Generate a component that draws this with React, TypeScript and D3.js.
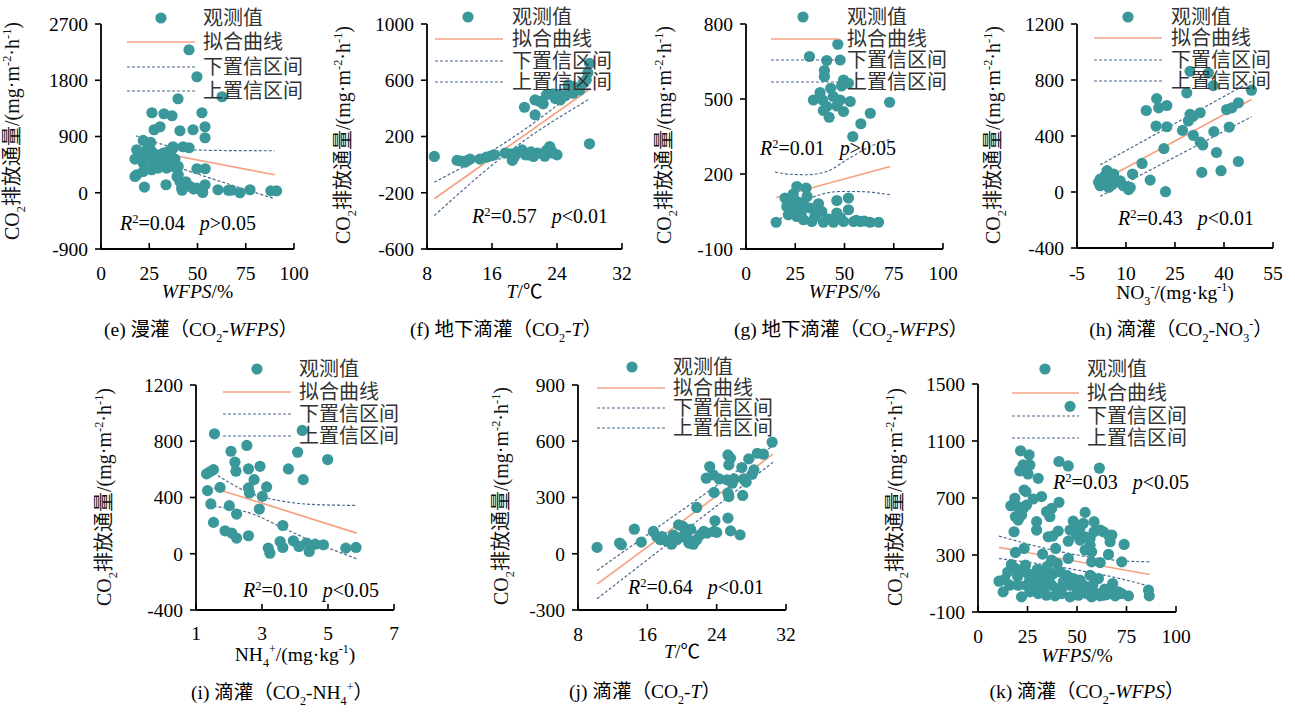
import React from 'react';
import * as d3 from 'd3';

type P = [number, number];
type Seg = { t: string; s?: 'sub' | 'sup'; i?: boolean; cjk?: boolean };

// ---------------- data ----------------
const legendLabels = ['观测值', '拟合曲线', '下置信区间', '上置信区间'];

// (e) 漫灌 CO2-WFPS
const obsE: P[] = [[45.6,2288],[49.7,1856],[62.7,1536],[39.9,1504],[26.4,1280],[32.6,1264],[36.8,1232],[52.3,1280],[53.9,1056],[30.6,1056],[27.5,1008],[40.9,992],[47.7,1008],[53.9,880],[21.9,837],[25.7,805],[37.3,736],[42.5,736],[45.6,720],[18.5,688],[17.6,539],[21.1,635],[23.7,581],[26.3,661],[28.8,608],[32.3,635],[34.9,661],[37.5,715],[21.9,475],[25.4,528],[28.8,448],[32.3,475],[35.8,501],[38.3,539],[18.5,288],[21.9,341],[26.3,368],[29.7,395],[34,395],[37.5,421],[40,421],[40,288],[17.6,261],[40.9,181],[43.5,128],[46.1,101],[41.8,75],[49.6,75],[52.2,48],[53.9,128],[22.5,91],[33.7,128],[52.7,5],[49.7,384],[54,384],[39.4,256],[60.6,48],[66,40],[67.5,40],[72,0],[77.2,48],[88,30],[91,30],[20,560],[24,700],[30,560],[36,600],[44,176],[48,60],[42,40]];
const fitE: P[] = [[18,712],[90,288]];
const upE: P[] = [[18,912],[30,790],[40,712],[50,684],[70,674],[90,672]];
const loE: P[] = [[18,560],[30.6,496],[50,300],[70,100],[90,-96]];
const eXTicks = [0, 25, 50, 75, 100];
const eYTicks = [-900, 0, 900, 1800, 2700];

// (f) 地下滴灌 CO2-T
const obsF: P[] = [[8.9,58],[11.7,30],[12.7,18],[13.3,39],[12.2,25],[13,30],[14.5,39],[15.3,53],[15.9,63],[16.3,70],[17.6,82],[18.2,77],[18.5,30],[19,86],[19.7,105],[20.1,70],[20.5,70],[21.1,58],[21.6,82],[22.2,77],[22.7,101],[23.1,129],[23.5,82],[24,70],[18.8,60],[20.8,90],[22.5,60],[23.3,100],[28,148],[20,408],[21.3,354],[21.3,460],[21.9,448],[22.3,432],[22.7,496],[23.5,503],[24.4,460],[25,489],[25.4,543],[26,508],[24.2,500],[23.8,470],[25.4,567],[26,555],[26.8,531],[27.2,579],[27.6,602],[27.8,654],[28,721],[26.5,540]];
const fitF: P[] = [[8.9,-243],[28,536]];
const upF: P[] = [[8.9,-125],[18.5,190],[28,605]];
const loF: P[] = [[8.9,-363],[18.5,110],[28,467]];
const fXTicks = [8, 16, 24, 32];
const fYTicks = [-600, -200, 200, 600, 1000];

// (g) 地下滴灌 CO2-WFPS
const obsG: P[] = [[46.6,719],[32.2,670],[41,654],[47.8,656],[39.8,614],[39.8,590],[49.5,576],[52,563],[48.5,552],[43,543],[37.6,526],[34.2,496],[38.9,496],[44.3,510],[47.8,496],[52.9,490],[72.9,487],[41,470],[39.3,454],[46.1,472],[49.5,450],[42.2,427],[63.1,443],[58.3,401],[54.2,350],[25.8,150],[30.5,144],[19.8,104],[23.2,97],[25.8,90],[28.3,84],[20.7,70],[23.2,64],[26.6,57],[30,70],[32.5,64],[36.8,81],[38.5,50],[46.1,94],[52,104],[52,57],[46.1,44],[21.5,37],[25.8,30],[29.2,17],[33.4,10],[39.3,7],[44.4,7],[49.5,10],[54.6,10],[58,10],[63,7],[67.3,7],[15.3,7],[22,80],[28,40],[35,30],[42,20],[31,110],[24,120],[37,50],[48,25],[56,15],[60,12]];
const fitG: P[] = [[15.3,106],[73.2,230]];
const upG: P[] = [[14.7,208],[22,199],[30.8,197],[41,210],[51.2,257],[63,310],[73.2,339]];
const loG: P[] = [[15.3,5],[27.5,84],[37.6,117],[47.8,130],[56.3,130],[73.2,117]];
const gXTicks = [0, 25, 50, 75, 100];
const gYTicks = [-100, 200, 500, 800];

// (h) 滴灌 CO2-NO3-
const obsH: P[] = [[29.6,862],[35.2,850],[36.7,760],[28.6,708],[48.4,727],[19.4,667],[22.5,618],[20,601],[16.2,582],[29.6,554],[32.7,566],[29.1,507],[40.8,589],[42.4,601],[44.4,637],[19.2,471],[22.5,466],[41.6,464],[27.3,440],[30.6,405],[32.7,357],[33.5,336],[36.9,431],[21.6,310],[37.7,282],[14.9,204],[44.4,218],[33.2,140],[39.1,152],[12,128],[17.4,85],[22.1,2],[2.1,92],[4.2,152],[6.2,128],[2.1,45],[4.7,33],[6.7,69],[8.2,80],[9.2,45],[11.3,33],[10.8,17],[1.6,69],[3.6,116],[5.2,73],[30.5,540],[3,60]];
const fitH: P[] = [[2.1,73],[48.4,660]];
const upH: P[] = [[2.1,194],[48.4,791]];
const loH: P[] = [[2.1,-31],[48.4,537]];
const hXTicks = [-5, 10, 25, 40, 55];
const hYTicks = [-400, 0, 400, 800, 1200];

// (i) 滴灌 CO2-NH4+
const obsI: P[] = [[1.56,853],[4.22,877],[2.54,770],[2.06,729],[4.08,722],[4.99,670],[2.18,651],[2.21,587],[2.59,603],[2.94,622],[1.53,598],[1.32,568],[1.42,582],[3.8,603],[2.76,527],[4.25,527],[3.14,475],[2.59,468],[2.62,432],[1.73,472],[1.35,449],[3.01,408],[1.45,354],[2.01,342],[2.23,282],[2.92,318],[1.53,223],[3.63,201],[1.88,163],[2.08,147],[2.23,111],[2.59,128],[3.19,40],[3.24,4],[3.55,87],[3.63,45],[3.95,92],[4.12,52],[4.35,76],[4.43,16],[4.61,68],[4.86,64],[5.54,40],[5.85,45]];
const fitI: P[] = [[1.53,468],[5.87,147]];
const upI: P[] = [[1.53,575],[2.64,432],[3.65,373],[4.66,349],[5.87,344]];
const loI: P[] = [[1.53,337],[2.64,289],[3.65,182],[4.66,75],[5.87,-36]];
const iXTicks = [1, 3, 5, 7];
const iYTicks = [-400, 0, 400, 800, 1200];

// (j) 滴灌 CO2-T
const obsJ: P[] = [[10.2,34],[12.8,57],[13,48],[14.5,131],[15.3,62],[16.7,119],[17.1,92],[17.7,92],[18.3,66],[18.8,51],[19.4,75],[19.6,154],[20.1,146],[20.4,119],[20.6,83],[20.8,57],[21.3,51],[21.7,75],[22.1,101],[22.5,119],[22.9,110],[23.7,119],[24,114],[21.7,247],[23.8,176],[25.3,190],[25.6,122],[26.7,101],[23.7,327],[25.3,323],[25.4,305],[27,311],[23.2,465],[22.8,403],[23.6,421],[24.3,399],[25.2,394],[25.8,376],[26,399],[25.3,527],[25.6,509],[25.4,474],[26.9,460],[27.1,399],[27.4,382],[27.7,506],[28.1,424],[28.3,447],[28.7,536],[29.4,531],[30.4,595],[19,100],[20,90],[21,130],[17.5,75]];
const fitJ: P[] = [[10.2,-162],[30.5,531]];
const upJ: P[] = [[10.2,-89],[30.5,577]];
const loJ: P[] = [[10.2,-240],[30.5,488]];
const jXTicks = [8, 16, 24, 32];
const jYTicks = [-300, 0, 300, 600, 900];

// (k) 滴灌 CO2-WFPS
const obsK: P[] = [[46.5,1343],[21.5,1031],[25.8,1003],[40.9,956],[45.6,925],[61.3,909],[22.8,932],[26.2,932],[21.1,890],[24.5,885],[25.3,869],[30.4,838],[23.3,756],[24.2,745],[32.1,710],[18.6,698],[27.9,693],[16.6,646],[20.3,639],[22.8,627],[24.5,651],[40.9,670],[34.6,604],[37.2,627],[36.3,569],[18.9,569],[20.3,545],[22,580],[54.1,599],[18.2,463],[29.6,534],[29.6,475],[58.6,534],[48.1,538],[49.8,510],[51.5,487],[53.2,522],[40.5,468],[46.5,475],[35.5,428],[37.7,433],[45.6,397],[49.8,440],[51.5,405],[54.1,428],[56.6,416],[58.6,463],[61.7,475],[63.3,463],[65.9,440],[67.6,440],[66.7,393],[56.6,369],[54.1,334],[57.4,322],[39.2,346],[23.3,346],[18.9,318],[32.6,306],[65.9,304],[73.8,374],[45.6,276],[57.4,252],[61.7,247],[72.6,252],[37.2,264],[16.9,233],[18.9,205],[22,182],[25.3,170],[27.9,158],[31.3,147],[34.6,158],[38,170],[41.4,182],[44.8,158],[48.1,135],[51.5,123],[56.6,158],[60.8,135],[10.6,116],[13.5,130],[12.7,41],[16,88],[20.3,88],[24.5,88],[28.7,65],[32.9,65],[37.2,88],[42.2,65],[46.5,88],[49.8,65],[53.2,88],[22,6],[26.2,41],[30.4,29],[34.6,18],[38.9,13],[42.2,29],[46.5,6],[50.7,18],[54.9,29],[57.4,6],[61.7,13],[65,22],[69.3,13],[72.6,29],[76,13],[66.7,41],[70.9,41],[86.1,53],[86.5,13],[39.7,65],[43.1,112],[55.7,65],[60,29],[63.3,18],[36.3,147],[32.1,112],[26.2,130],[30,200],[35,220],[40,240],[28,110],[33,180],[45,120],[20,150],[15,180],[24,230],[36,100],[52,40],[58,90],[64,60],[68,100]];
const fitK: P[] = [[10.6,353],[86.7,163]];
const upK: P[] = [[10.6,433],[30,360],[50,300],[70,262],[86.7,252]];
const loK: P[] = [[10.6,275],[30,240],[50,195],[70,140],[86.7,81]];
const kXTicks = [0, 25, 50, 75, 100];
const kYTicks = [-100, 300, 700, 1100, 1500];

// ---------------- styles ----------------
const FONT = "'Liberation Serif','Times New Roman','Noto Sans CJK SC',serif";
const CJK = "'Noto Sans CJK SC','Liberation Serif',sans-serif";
const TEAL = '#3A989B';
const ORANGE = '#F5A283';
const BLUE = '#4B6A8D';

const yTitle: Seg[] = [
  { t: 'CO' }, { t: '2', s: 'sub' }, { t: '排放通量', cjk: true }, { t: '/(mg·m' }, { t: '-2', s: 'sup' },
  { t: '·h' }, { t: '-1', s: 'sup' }, { t: ')' },
];
const wfpsTitle: Seg[] = [{ t: 'WFPS', i: true }, { t: '/%' }];
const tTitle: Seg[] = [{ t: 'T', i: true }, { t: '/℃' }];

interface Leg { mx: number; l0: number; l1: number; tx: number; rows: number[] }
interface Cfg {
  obs: P[]; fit: P[]; up: P[]; lo: P[];
  xDom: [number, number]; yDom: [number, number]; xTicks: number[]; yTicks: number[];
  x0: number; x1: number; yT: number; yB: number;
  xTitle: Seg[]; caption: Seg[]; r2: string; p: string;
  r2x: number; r2y: number; titleX: number; titleY: number; capX: number;
  tickY: number; xTitleY: number; capY: number; leg: Leg;
}

const panels: Cfg[] = [
  {
    obs: obsE, fit: fitE, up: upE, lo: loE, xDom: [0, 100], yDom: [-900, 2700], xTicks: eXTicks, yTicks: eYTicks,
    x0: 101, x1: 294, yT: 24, yB: 249, xTitle: wfpsTitle,
    caption: [{ t: '(e) ' }, { t: '漫灌（', cjk: true }, { t: 'CO' }, { t: '2', s: 'sub' }, { t: '-' }, { t: 'WFPS', i: true }, { t: '）', cjk: true }],
    r2: '0.04', p: '>0.05', r2x: 120, r2y: 223, titleX: 19, titleY: 131, capX: 201,
    tickY: 273, xTitleY: 298, capY: 336, leg: { mx: 161, l0: 127, l1: 195, tx: 203, rows: [18, 42, 67, 91] },
  },
  {
    obs: obsF, fit: fitF, up: upF, lo: loF, xDom: [8, 32], yDom: [-600, 1000], xTicks: fXTicks, yTicks: fYTicks,
    x0: 427, x1: 622, yT: 24, yB: 249, xTitle: tTitle,
    caption: [{ t: '(f) ' }, { t: '地下滴灌（', cjk: true }, { t: 'CO' }, { t: '2', s: 'sub' }, { t: '-' }, { t: 'T', i: true }, { t: '）', cjk: true }],
    r2: '0.57', p: '<0.01', r2x: 472, r2y: 216, titleX: 350, titleY: 135, capX: 506,
    tickY: 273, xTitleY: 298, capY: 336, leg: { mx: 468, l0: 435, l1: 503, tx: 512, rows: [17, 39, 61, 82] },
  },
  {
    obs: obsG, fit: fitG, up: upG, lo: loG, xDom: [0, 100], yDom: [-100, 800], xTicks: gXTicks, yTicks: gYTicks,
    x0: 746, x1: 943, yT: 24, yB: 249, xTitle: wfpsTitle,
    caption: [{ t: '(g) ' }, { t: '地下滴灌（', cjk: true }, { t: 'CO' }, { t: '2', s: 'sub' }, { t: '-' }, { t: 'WFPS', i: true }, { t: '）', cjk: true }],
    r2: '0.01', p: '>0.05', r2x: 760, r2y: 148, titleX: 671, titleY: 135, capX: 851,
    tickY: 273, xTitleY: 298, capY: 336, leg: { mx: 803, l0: 771, l1: 839, tx: 847, rows: [17, 39, 60, 82] },
  },
  {
    obs: obsH, fit: fitH, up: upH, lo: loH, xDom: [-5, 55], yDom: [-400, 1200], xTicks: hXTicks, yTicks: hYTicks,
    x0: 1077, x1: 1273, yT: 24, yB: 248,
    xTitle: [{ t: 'NO' }, { t: '3', s: 'sub' }, { t: '-', s: 'sup' }, { t: '/(mg·kg' }, { t: '-1', s: 'sup' }, { t: ')' }],
    caption: [{ t: '(h) ' }, { t: '滴灌（', cjk: true }, { t: 'CO' }, { t: '2', s: 'sub' }, { t: '-NO' }, { t: '3', s: 'sub' }, { t: '-', s: 'sup' }, { t: '）', cjk: true }],
    r2: '0.43', p: '<0.01', r2x: 1118, r2y: 218, titleX: 1000, titleY: 135, capX: 1181,
    tickY: 273, xTitleY: 299, capY: 336, leg: { mx: 1128, l0: 1094, l1: 1162, tx: 1171, rows: [17, 38, 60, 81] },
  },
  {
    obs: obsI, fit: fitI, up: upI, lo: loI, xDom: [1, 7], yDom: [-400, 1200], xTicks: iXTicks, yTicks: iYTicks,
    x0: 196, x1: 394, yT: 385, yB: 610,
    xTitle: [{ t: 'NH' }, { t: '4', s: 'sub' }, { t: '+', s: 'sup' }, { t: '/(mg·kg' }, { t: '-1', s: 'sup' }, { t: ')' }],
    caption: [{ t: '(i) ' }, { t: '滴灌（', cjk: true }, { t: 'CO' }, { t: '2', s: 'sub' }, { t: '-NH' }, { t: '4', s: 'sub' }, { t: '+', s: 'sup' }, { t: '）', cjk: true }],
    r2: '0.10', p: '<0.05', r2x: 243, r2y: 590, titleX: 111, titleY: 497, capX: 282,
    tickY: 633, xTitleY: 661, capY: 699, leg: { mx: 257, l0: 223, l1: 291, tx: 299, rows: [369, 392, 414, 436] },
  },
  {
    obs: obsJ, fit: fitJ, up: upJ, lo: loJ, xDom: [8, 32], yDom: [-300, 900], xTicks: jXTicks, yTicks: jYTicks,
    x0: 578, x1: 786, yT: 385, yB: 610, xTitle: tTitle,
    caption: [{ t: '(j) ' }, { t: '滴灌（', cjk: true }, { t: 'CO' }, { t: '2', s: 'sub' }, { t: '-' }, { t: 'T', i: true }, { t: '）', cjk: true }],
    r2: '0.64', p: '<0.01', r2x: 628, r2y: 587, titleX: 508, titleY: 496, capX: 645,
    tickY: 634, xTitleY: 658, capY: 698, leg: { mx: 632, l0: 597, l1: 665, tx: 673, rows: [367, 388, 408, 428] },
  },
  {
    obs: obsK, fit: fitK, up: upK, lo: loK, xDom: [0, 100], yDom: [-100, 1500], xTicks: kXTicks, yTicks: kYTicks,
    x0: 978, x1: 1176, yT: 384, yB: 612, xTitle: wfpsTitle,
    caption: [{ t: '(k) ' }, { t: '滴灌（', cjk: true }, { t: 'CO' }, { t: '2', s: 'sub' }, { t: '-' }, { t: 'WFPS', i: true }, { t: '）', cjk: true }],
    r2: '0.03', p: '<0.05', r2x: 1053, r2y: 482, titleX: 902, titleY: 497, capX: 1087,
    tickY: 636, xTitleY: 662, capY: 698, leg: { mx: 1045, l0: 1012, l1: 1079, tx: 1087, rows: [369, 393, 416, 438] },
  },
];

function Rich({ segs, fs }: { segs: Seg[]; fs: number }) {
  let cur = 0;
  const out = segs.map((g, k) => {
    const target = g.s === 'sub' ? fs * 0.3 : g.s === 'sup' ? -fs * 0.4 : 0;
    const dy = target - cur;
    cur = target;
    return (
      <tspan key={k} dy={dy} fontSize={g.s ? fs * 0.62 : fs} fontStyle={g.i ? 'italic' : 'normal'} fontFamily={g.cjk ? CJK : FONT}>
        {g.t}
      </tspan>
    );
  });
  return <>{out}</>;
}

function Panel({ c }: { c: Cfg }) {
  const x = d3.scaleLinear().domain(c.xDom).range([c.x0, c.x1]);
  const y = d3.scaleLinear().domain(c.yDom).range([c.yB, c.yT]);
  const straight = d3.line<P>().x((d) => x(d[0])).y((d) => y(d[1]));
  const curved = d3.line<P>().x((d) => x(d[0])).y((d) => y(d[1])).curve(d3.curveMonotoneX);
  const L = c.leg;
  return (
    <g fontFamily={FONT}>
      <path d={curved(c.up) || ''} fill="none" stroke={BLUE} strokeWidth={1.2} strokeDasharray="3,2" />
      <path d={curved(c.lo) || ''} fill="none" stroke={BLUE} strokeWidth={1.2} strokeDasharray="3,2" />
      <path d={straight(c.fit) || ''} fill="none" stroke={ORANGE} strokeWidth={1.7} />
      {c.obs.map((d, k) => (
        <circle key={k} cx={x(d[0])} cy={y(d[1])} r={5.6} fill={TEAL} />
      ))}
      <line x1={c.x0} x2={c.x0} y1={c.yT} y2={c.yB} stroke="#000" strokeWidth={1.8} />
      <line x1={c.x0} x2={c.x1} y1={c.yB} y2={c.yB} stroke="#000" strokeWidth={1.8} />
      {c.yTicks.map((t) => (
        <g key={'y' + t}>
          <line x1={c.x0 - 6} x2={c.x0} y1={y(t)} y2={y(t)} stroke="#000" strokeWidth={1.6} />
          <text x={c.x0 - 13} y={y(t)} dy="0.35em" textAnchor="end" fontSize={19.5} fill="#000">{t}</text>
        </g>
      ))}
      {c.xTicks.map((t) => (
        <g key={'x' + t}>
          <line x1={x(t)} x2={x(t)} y1={c.yB - 6} y2={c.yB} stroke="#000" strokeWidth={1.6} />
          <text x={x(t)} y={c.tickY} dy="0.35em" textAnchor="middle" fontSize={19.5} fill="#000">{t}</text>
        </g>
      ))}
      <text x={(c.x0 + c.x1) / 2} y={c.xTitleY} dy="0.35em" textAnchor="middle" fontSize={19.5} fill="#000">
        <Rich segs={c.xTitle} fs={19.5} />
      </text>
      <g opacity={0.995}>
        <text transform={`translate(${c.titleX},${c.titleY}) rotate(-90)`} dy="0.35em" textAnchor="middle" fontSize={20} fill="#111">
          <Rich segs={yTitle} fs={20} />
        </text>
      </g>
      <text x={c.r2x} y={c.r2y} dy="0.35em" fontSize={20} fill="#000">
        <tspan fontStyle="italic">R</tspan>
        <tspan dy={-7} fontSize={12.5}>2</tspan>
        <tspan dy={7}>{'=' + c.r2}</tspan>
        <tspan dx={15} fontStyle="italic">p</tspan>
        <tspan>{c.p}</tspan>
      </text>
      <text x={c.capX} y={c.capY} dy="0.35em" textAnchor="middle" fontSize={19.5} fill="#000">
        <Rich segs={c.caption} fs={19.5} />
      </text>
      <circle cx={L.mx} cy={L.rows[0]} r={5.6} fill={TEAL} />
      <line x1={L.l0} x2={L.l1} y1={L.rows[1]} y2={L.rows[1]} stroke={ORANGE} strokeWidth={1.7} />
      <line x1={L.l0} x2={L.l1} y1={L.rows[2]} y2={L.rows[2]} stroke={BLUE} strokeWidth={1.2} strokeDasharray="3,2" />
      <line x1={L.l0} x2={L.l1} y1={L.rows[3]} y2={L.rows[3]} stroke={BLUE} strokeWidth={1.2} strokeDasharray="3,2" />
      {legendLabels.map((t, k) => (
        <text key={t} x={L.tx} y={L.rows[k]} dy="0.35em" fontSize={20} fill="#333" fontFamily={CJK}>{t}</text>
      ))}
    </g>
  );
}

export default function App() {
  return (
    <svg width={1295} height={716} style={{ position: 'absolute', left: 0, top: 0, background: '#fff' }}>
      <rect width={1295} height={716} fill="#fff" />
      {panels.map((c, k) => (
        <Panel key={k} c={c} />
      ))}
    </svg>
  );
}
